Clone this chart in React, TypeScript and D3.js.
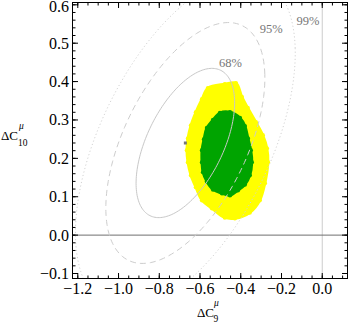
import React from 'react'
import * as d3 from 'd3'

// axis ticks
const xMajorTicks = [-1.2, -1.0, -0.8, -0.6, -0.4, -0.2, 0.0]
const xTickLabels = ['−1.2', '−1.0', '−0.8', '−0.6', '−0.4', '−0.2', '0.0']
const yMajorTicks = [-0.1, 0.0, 0.1, 0.2, 0.3, 0.4, 0.5, 0.6]
const yTickLabels = ['−0.1', '0.0', '0.1', '0.2', '0.3', '0.4', '0.5', '0.6']

// fit: best point, widths and correlation of the gaussian contours
const bestFit = [-0.672, 0.240]
const sigmas = [0.1595, 0.1282]
const rho = 0.54
const contourLabels = ['68%', '95%', '99%']
const contourChi2 = [2.3, 5.99, 11.44]
const contourLabelPos = [[-0.45, 0.445], [-0.25, 0.535], [-0.07, 0.555]]

// outline of the scan points (yellow = 2 sigma, green = 1 sigma)
const yellowX = [-0.561, -0.478, -0.424, -0.395, -0.366, -0.326, -0.292, -0.272, -0.267, -0.282, -0.307, -0.356, -0.429, -0.478, -0.541, -0.59, -0.62, -0.644, -0.659, -0.664, -0.659, -0.644, -0.62, -0.59]
const yellowY = [0.383, 0.393, 0.396, 0.36, 0.331, 0.294, 0.26, 0.226, 0.19, 0.135, 0.091, 0.059, 0.044, 0.046, 0.07, 0.091, 0.125, 0.156, 0.19, 0.221, 0.252, 0.286, 0.32, 0.354]
const greenX = [-0.536, -0.502, -0.453, -0.404, -0.38, -0.365, -0.351, -0.346, -0.356, -0.38, -0.414, -0.453, -0.492, -0.536, -0.566, -0.585, -0.59, -0.59, -0.58, -0.566]
const greenY = [0.3, 0.318, 0.32, 0.305, 0.284, 0.252, 0.221, 0.19, 0.156, 0.132, 0.117, 0.104, 0.109, 0.119, 0.14, 0.164, 0.19, 0.221, 0.25, 0.279]

const W = 350
const H = 326
const left = 72.5, right = 347.5, top = 2.5, bottom = 278.5

const x = d3.scaleLinear().domain([-1.226, 0.124]).range([left, right])
const y = d3.scaleLinear().domain([-0.113, 0.606]).range([bottom, top])

const serif = '"Liberation Serif", "DejaVu Serif", serif'

function ellipse(chi2: number): [number, number][] {
  const k = Math.sqrt(chi2)
  const ts = d3.range(0, 2 * Math.PI, Math.PI / 90)
  return ts.map(t => [
    bestFit[0] + k * sigmas[0] * Math.cos(t),
    bestFit[1] + k * sigmas[1] * (rho * Math.cos(t) + Math.sqrt(1 - rho * rho) * Math.sin(t)),
  ])
}

const closedLine = d3.line<[number, number]>()
  .x(d => x(d[0]))
  .y(d => y(d[1]))
  .curve(d3.curveCatmullRomClosed)

const contourStyles = [
  { stroke: '#c8c8c8', dash: null },
  { stroke: '#cdcdcd', dash: '6,4' },
  { stroke: '#d2d2d2', dash: '1.2,2.4' },
]

function Blob({ xs, ys, color }: { xs: number[]; ys: number[]; color: string }) {
  const pts = xs.map((v, i) => [v, ys[i]] as [number, number])
  return (
    <g>
      <path d={closedLine(pts) || ''} fill={color} stroke={color} strokeWidth={3} strokeLinejoin="round" />
      {pts.map((p, i) => (
        <circle key={i} cx={x(p[0])} cy={y(p[1])} r={2.2} fill={color} />
      ))}
    </g>
  )
}

export default function App() {
  const xMinor = d3.range(-1.2, 0.126, 0.05)
  const yMinor = d3.range(-0.1, 0.601, 0.02)

  return (
    <svg width={W} height={H} style={{ position: 'absolute', left: 0, top: 0, background: '#fff' }}>
      <defs>
        <clipPath id="plot">
          <rect x={left} y={top} width={right - left} height={bottom - top} />
        </clipPath>
      </defs>

      <g clipPath="url(#plot)">
        <Blob xs={yellowX} ys={yellowY} color="#ffff00" />
        <Blob xs={greenX} ys={greenY} color="#00a400" />

        <line x1={x(0)} x2={x(0)} y1={top} y2={bottom} stroke="#cccccc" strokeWidth={1} />
        <line x1={left} x2={right} y1={y(0)} y2={y(0)} stroke="#707070" strokeWidth={1} />

        {contourChi2.map((c, i) => (
          <path
            key={i}
            d={closedLine(ellipse(c)) || ''}
            fill="none"
            stroke={contourStyles[i].stroke}
            strokeWidth={1}
            strokeDasharray={contourStyles[i].dash || undefined}
          />
        ))}

        <rect x={x(bestFit[0]) - 1.5} y={y(bestFit[1]) - 1.5} width={3} height={3} fill="#777" />
      </g>

      {contourLabels.map((l, i) => (
        <text
          key={l}
          x={x(contourLabelPos[i][0])}
          y={y(contourLabelPos[i][1])}
          textAnchor="middle"
          dominantBaseline="middle"
          fontFamily={serif}
          fontSize={12.5}
          fill="#777"
        >
          {l}
        </text>
      ))}

      {/* frame */}
      <rect x={left} y={top} width={right - left} height={bottom - top} fill="none" stroke="#000" strokeWidth={1} />

      {/* x ticks, bottom and top */}
      {xMinor.map((v, i) => (
        <g key={'xm' + i}>
          <line x1={x(v)} x2={x(v)} y1={bottom} y2={bottom - 3} stroke="#000" />
          <line x1={x(v)} x2={x(v)} y1={top} y2={top + 3} stroke="#000" />
        </g>
      ))}
      {xMajorTicks.map((v, i) => (
        <g key={'x' + i}>
          <line x1={x(v)} x2={x(v)} y1={bottom} y2={bottom - 5.5} stroke="#000" />
          <line x1={x(v)} x2={x(v)} y1={top} y2={top + 5.5} stroke="#000" />
          <text x={x(v)} y={294} textAnchor="middle" fontFamily={serif} fontSize={16} fill="#000">
            {xTickLabels[i]}
          </text>
        </g>
      ))}

      {/* y ticks, left and right */}
      {yMinor.map((v, i) => (
        <g key={'ym' + i}>
          <line x1={left} x2={left + 3} y1={y(v)} y2={y(v)} stroke="#000" />
          <line x1={right} x2={right - 3} y1={y(v)} y2={y(v)} stroke="#000" />
        </g>
      ))}
      {yMajorTicks.map((v, i) => (
        <g key={'y' + i}>
          <line x1={left} x2={left + 5.5} y1={y(v)} y2={y(v)} stroke="#000" />
          <line x1={right} x2={right - 5.5} y1={y(v)} y2={y(v)} stroke="#000" />
          <text x={69} y={Math.max(y(v) + 5.5, 12)} textAnchor="end" fontFamily={serif} fontSize={16} fill="#000">
            {yTickLabels[i]}
          </text>
        </g>
      ))}

      {/* axis titles */}
      <g fontFamily={serif} fill="#000">
        <text x={1} y={140} fontSize={13}>ΔC</text>
        <text x={18} y={146} fontSize={9.5}>10</text>
        <text x={19} y={129} fontSize={9.5} fontStyle="italic">μ</text>

        <text x={197} y={317} fontSize={13}>ΔC</text>
        <text x={213.5} y={322} fontSize={9.5}>9</text>
        <text x={214} y={306} fontSize={9.5} fontStyle="italic">μ</text>
      </g>
    </svg>
  )
}
